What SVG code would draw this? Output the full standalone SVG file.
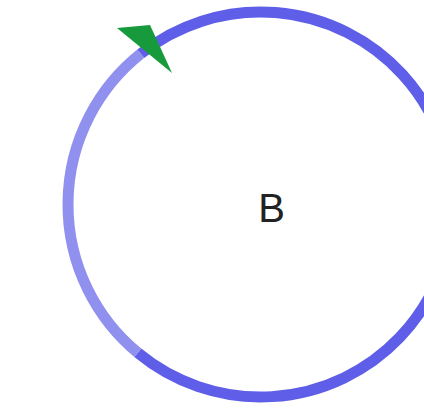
<svg xmlns="http://www.w3.org/2000/svg" width="424" height="411" viewBox="0 0 424 411">
<style>
.arc{fill:none;stroke-width:11;stroke-linecap:butt}
.dark{stroke:#5e5ee8}
.light{stroke:#9090ef}
.lbl{font-family:"Liberation Sans",Arial,sans-serif;font-size:40px;fill:#222;text-anchor:middle}
</style>
<rect width="424" height="411" fill="#ffffff"/>
<g id="connectors">
<path class="arc dark" d="M140.7,53.8 A192.5,192.5 0 1 1 137.8,352.8"/>
<path class="arc light" d="M137.8,352.8 A192.5,192.5 0 0 1 140.7,53.8"/>
<polygon points="117,28 150,25 172,73" fill="#179a3c"/>
</g>
<g id="node-B">
<text class="lbl" x="271.5" y="222">B</text>
</g>
</svg>
